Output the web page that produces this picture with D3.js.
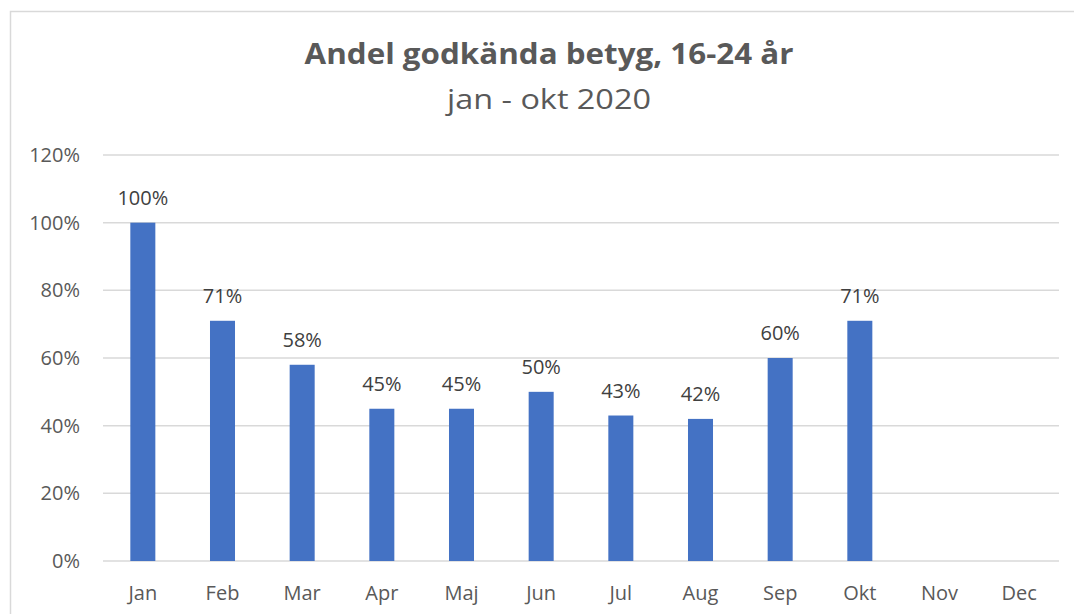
<!DOCTYPE html>
<html lang='en'>
	<head>
		<meta charset='utf-8'>
		<title>Andel godkända betyg</title>
		<script type='text/javascript' src='https://cdn.jsdelivr.net/npm/d3@7'></script>
		<style>
			body { margin: 0; background: white; }
			svg text { font-family: 'Open Sans', sans-serif; }
			g.grid line { stroke: #d9d9d9; stroke-width: 1.5px; }
			g.bars rect { fill: #4472c4; }
			.axis-label { fill: #595959; font-size: 20px; }
			.data-label { fill: #404040; font-size: 20px; }
		</style>
	</head>
	<body>
		<script type='text/javascript'>
			var months = ['Jan','Feb','Mar','Apr','Maj','Jun','Jul','Aug','Sep','Okt','Nov','Dec'];
			var values = [1.00, 0.71, 0.58, 0.45, 0.45, 0.50, 0.43, 0.42, 0.60, 0.71, null, null];
			var yTicks = [0, 0.2, 0.4, 0.6, 0.8, 1.0, 1.2];
			var title = 'Andel godkända betyg, 16-24 år';
			var subtitle = 'jan - okt 2020';

			var width = 1074, height = 614;
			var plotLeft = 103, plotRight = 1059, plotTop = 155, plotBottom = 561;

			var svg = d3.select('body').append('svg')
				.attr('width', width)
				.attr('height', height);

			// chart frame
			svg.append('rect')
				.attr('x', 10.5).attr('y', 11.5)
				.attr('width', 1100).attr('height', 700)
				.attr('fill', 'none')
				.attr('stroke', '#d9d9d9')
				.attr('stroke-width', 1.5);

			var x = d3.scaleBand().domain(months).range([plotLeft, plotRight]).paddingInner(0.686).paddingOuter(0.343);
			var y = d3.scaleLinear().domain([0, 1.2]).range([plotBottom, plotTop]);
			var pct = d3.format('.0%');

			svg.append('g').attr('class', 'grid')
				.selectAll('line')
				.data(yTicks)
				.enter().append('line')
					.attr('x1', plotLeft).attr('x2', plotRight)
					.attr('y1', function(d){ return y(d); })
					.attr('y2', function(d){ return y(d); });

			svg.append('g')
				.selectAll('text')
				.data(yTicks)
				.enter().append('text')
					.attr('class', 'axis-label')
					.attr('x', 80)
					.attr('y', function(d){ return y(d); })
					.attr('dy', '0.35em')
					.attr('text-anchor', 'end')
					.text(function(d){ return pct(d); });

			var data = months.map(function(m, i){ return {month: m, value: values[i]}; });
			var withValue = data.filter(function(d){ return d.value != null; });

			svg.append('g').attr('class', 'bars')
				.selectAll('rect')
				.data(withValue)
				.enter().append('rect')
					.attr('x', function(d){ return x(d.month); })
					.attr('width', x.bandwidth())
					.attr('y', function(d){ return y(d.value); })
					.attr('height', function(d){ return y(0) - y(d.value); });

			svg.append('g')
				.selectAll('text')
				.data(withValue)
				.enter().append('text')
					.attr('class', 'data-label')
					.attr('x', function(d){ return x(d.month) + x.bandwidth() / 2; })
					.attr('y', function(d){ return y(d.value) - 18; })
					.attr('text-anchor', 'middle')
					.text(function(d){ return pct(d.value); });

			svg.append('g')
				.selectAll('text')
				.data(months)
				.enter().append('text')
					.attr('class', 'axis-label')
					.attr('x', function(d){ return x(d) + x.bandwidth() / 2; })
					.attr('y', 600)
					.attr('text-anchor', 'middle')
					.text(function(d){ return d; });

			// title and subtitle, stretched a bit wider like the original
			svg.append('text')
				.attr('transform', 'translate(549,64) scale(1.12,1)')
				.attr('text-anchor', 'middle')
				.attr('fill', '#595959')
				.style('font-size', '28px')
				.style('font-weight', 'bold')
				.text(title);

			svg.append('text')
				.attr('transform', 'translate(549,109) scale(1.2,1)')
				.attr('text-anchor', 'middle')
				.attr('fill', '#595959')
				.style('font-size', '27px')
				.text(subtitle);
		</script>
	</body>
</html>
